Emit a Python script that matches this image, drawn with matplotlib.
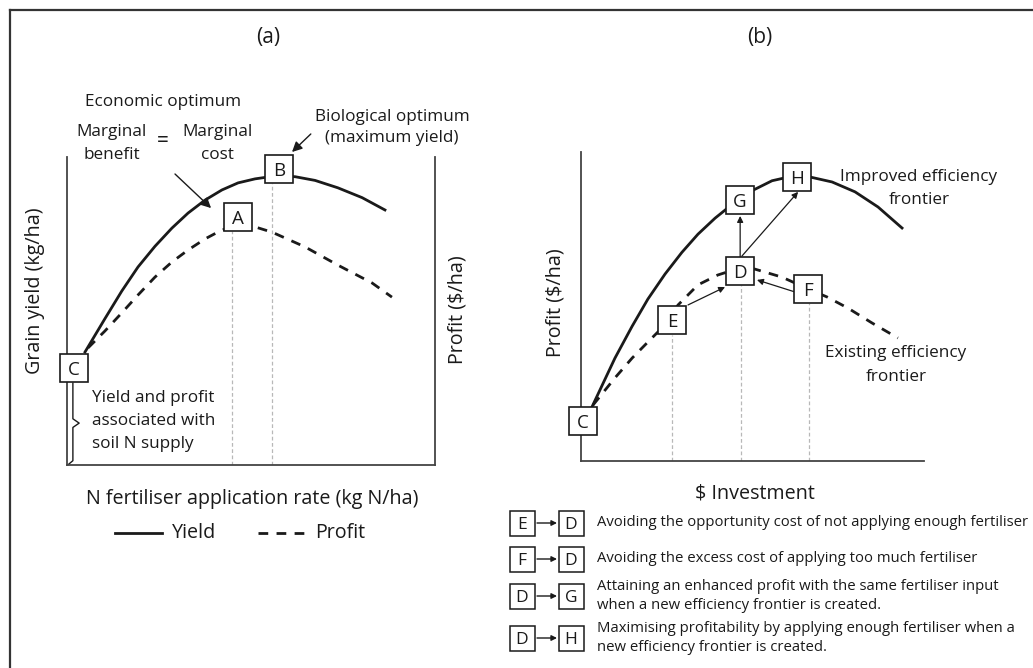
import matplotlib
matplotlib.use('agg')
import matplotlib.pyplot as plt
from matplotlib.lines import Line2D

plt.rcParams.update({
    "font.family": ["Open Sans", "DejaVu Sans"],
    "font.size": 12})

INK = '#1a1a1a'
GRID = '#b8b8b8'

# ---- panel (a): N rate vs yield / profit (relative units 0-100)
a_yield_x = [4.9, 10.3, 14.9, 19.3, 23.9, 28.5, 32.9, 37.5, 42.1, 46.5, 51.1, 54.6, 58.4, 62.0, 67.4, 73.6, 80.2, 86.4]
a_yield_y = [36.7, 47.5, 56.5, 64.3, 71.0, 76.9, 81.8, 86.0, 89.3, 91.6, 92.9, 93.5, 93.8, 93.6, 92.4, 90.0, 86.8, 82.8]
a_profit_x = [5.7, 10.3, 14.9, 19.3, 23.9, 28.5, 32.9, 37.5, 41.6, 45.7, 51.1, 55.7, 64.7, 73.6, 82.9, 88.3]
a_profit_y = [38.0, 43.5, 49.4, 55.2, 61.0, 65.9, 69.8, 73.4, 76.0, 77.9, 77.3, 75.6, 70.8, 64.9, 59.1, 54.5]
a_labels = ['C', 'A', 'B']
a_label_x = [1.8, 46.5, 57.6]
a_label_y = [31.5, 80.5, 96.1]
a_drop_x = [44.8, 55.7]      # economic / biological optimum rate
a_drop_top = [76.0, 91.6]

# ---- panel (b): investment vs profit (relative units 0-100)
b_improved_x = [3.2, 9.9, 14.9, 19.5, 24.5, 29.4, 34.1, 39.1, 42.9, 50.1, 55.7, 60.9, 66.8, 73.2, 79.9, 86.6, 93.6]
b_improved_y = [17.5, 33.3, 43.6, 52.4, 60.5, 67.5, 73.4, 78.6, 82.0, 87.6, 90.7, 92.0, 91.9, 90.3, 87.1, 82.2, 75.4]
b_existing_x = [3.5, 9.9, 14.9, 19.5, 23.0, 28.3, 34.1, 39.9, 46.4, 50.7, 58.6, 66.2, 71.7, 77.8, 84.8, 92.4]
b_existing_y = [18.1, 26.9, 33.3, 38.5, 42.4, 50.5, 57.0, 60.2, 62.5, 62.1, 59.5, 55.7, 53.1, 49.5, 44.7, 39.8]
b_labels = ['C', 'E', 'D', 'F', 'G', 'H']
b_label_x = [0.6, 26.5, 46.4, 66.2, 46.4, 63.0]
b_label_y = [12.9, 45.6, 61.5, 55.7, 84.5, 91.9]
b_drop_x = [26.5, 46.6, 66.5]
b_drop_top = [40.8, 57.0, 51.1]
b_arrow_from = [(31.2, 50.5), (62.4, 54.7), (46.4, 66.0), (46.9, 66.3)]
b_arrow_to = [(42.0, 56.3), (51.3, 58.6), (46.4, 79.3), (63.3, 87.1)]

legend_pairs = [('E', 'D'), ('F', 'D'), ('D', 'G'), ('D', 'H')]
legend_text = [
    ['Avoiding the opportunity cost of not applying enough fertiliser'],
    ['Avoiding the excess cost of applying too much fertiliser'],
    ['Attaining an enhanced profit with the same fertiliser input',
     'when a new efficiency frontier is created.'],
    ['Maximising profitability by applying enough fertiliser when a',
     'new efficiency frontier is created.'],
]

W, H = 1033, 668
LBL = 14.2    # axis labels
ANN = 12.3    # annotations
LEG = 10.7    # legend text in (b)


def rect(l, t, r, b):
    return [l / W, 1 - b / H, (r - l) / W, (b - t) / H]


fig = plt.figure(figsize=(W / 100, H / 100), dpi=100)

# overlay in pixel units for texts and the frame
ov = fig.add_axes([0, 0, 1, 1])
ov.set_xlim(0, W)
ov.set_ylim(H, 0)
ov.axis('off')
ov.plot([10, W], [10, 10], color='#333333', lw=1.6)
ov.plot([10, 10], [10, H], color='#333333', lw=1.6)


def boxes(ax, xs, ys, labels, ms=19.5, fs=13.5):
    ax.plot(xs, ys, 's', ms=ms, mfc='white', mec=INK, mew=1.2, zorder=5, clip_on=False)
    for x, y, t in zip(xs, ys, labels):
        ax.text(x, y, t, ha='center', va='center_baseline', fontsize=fs, color=INK, zorder=6)


def drops(ax, xs, tops):
    for x, t in zip(xs, tops):
        ax.plot([x, x], [0, t], color=GRID, lw=0.9, dashes=(3, 2), zorder=1)


# ---------- panel (a)
axa = fig.add_axes(rect(67, 157, 435, 465))
axa.set_facecolor('none')
axa.set_xlim(0, 100)
axa.set_ylim(0, 100)
axa.set_xticks([])
axa.set_yticks([])
axa.spines['top'].set_visible(False)
for s in ['left', 'bottom', 'right']:
    axa.spines[s].set_color('#444444')
    axa.spines[s].set_linewidth(1.3)
drops(axa, a_drop_x, a_drop_top)
axa.plot(a_yield_x, a_yield_y, color=INK, lw=2, zorder=3)
axa.plot(a_profit_x, a_profit_y, color=INK, lw=2, dashes=(3.5, 3), zorder=3)
boxes(axa, a_label_x, a_label_y, a_labels)
# brace for soil N supply
axa.plot([1.6, 1.6, 3.3, 1.6, 1.6, 0.2], [26.6, 15.0, 13.6, 12.2, 1.4, 0.0],
         color=INK, lw=1, clip_on=False)
axa.annotate('', xy=(39.7, 82.8), xytext=(28.8, 95.1),
             arrowprops=dict(arrowstyle='-|>', color=INK, lw=1, mutation_scale=15),
             annotation_clip=False)
axa.annotate('', xy=(60.6, 101.0), xytext=(66.8, 108.1),
             arrowprops=dict(arrowstyle='-|>', color=INK, lw=1, mutation_scale=15),
             annotation_clip=False)

# ---------- panel (b)
axb = fig.add_axes(rect(581, 152, 924, 461))
axb.set_facecolor('none')
axb.set_xlim(0, 100)
axb.set_ylim(0, 100)
axb.set_xticks([])
axb.set_yticks([])
for s in ['top', 'right']:
    axb.spines[s].set_visible(False)
for s in ['left', 'bottom']:
    axb.spines[s].set_color('#444444')
    axb.spines[s].set_linewidth(1.3)
drops(axb, b_drop_x, b_drop_top)
axb.plot(b_improved_x, b_improved_y, color=INK, lw=2, zorder=3)
axb.plot(b_existing_x, b_existing_y, color=INK, lw=2, dashes=(3.5, 3), zorder=3)
for p0, p1 in zip(b_arrow_from, b_arrow_to):
    axb.annotate('', xy=p1, xytext=p0,
                 arrowprops=dict(arrowstyle='-|>', color=INK, lw=0.9, mutation_scale=9,
                                 shrinkA=0, shrinkB=0), zorder=4)
boxes(axb, b_label_x, b_label_y, b_labels)

# ---------- texts (pixel positions)
kw = dict(color=INK, ha='center', va='center')
ov.text(268, 38, '(a)', fontsize=15, **kw)
ov.text(760, 38, '(b)', fontsize=15, **kw)
ov.text(163, 102, 'Economic optimum', fontsize=ANN, **kw)
ov.text(112, 132, 'Marginal', fontsize=ANN, **kw)
ov.text(112, 155, 'benefit', fontsize=ANN, **kw)
ov.text(163, 142, '=', fontsize=15, **kw)
ov.text(217, 132, 'Marginal', fontsize=ANN, **kw)
ov.text(217, 155, 'cost', fontsize=ANN, **kw)
ov.text(392, 117, 'Biological optimum', fontsize=ANN, **kw)
ov.text(392, 138, '(maximum yield)', fontsize=ANN, **kw)
ov.text(35, 291, 'Grain yield (kg/ha)', fontsize=LBL, rotation=90, **kw)
ov.text(458, 310, 'Profit ($/ha)', fontsize=LBL, rotation=90, **kw)
for txt, y in zip(['Yield and profit', 'associated with', 'soil N supply'], [398, 421, 444]):
    ov.text(92, y, txt, fontsize=ANN, color=INK, ha='left', va='center')
ov.text(252, 499, 'N fertiliser application rate (kg N/ha)', fontsize=LBL, **kw)

# panel (a) legend
ov.add_line(Line2D([115, 162], [533, 533], color=INK, lw=2))
ov.text(172, 533, 'Yield', fontsize=LBL, color=INK, ha='left', va='center')
ov.add_line(Line2D([258, 305], [533, 533], color=INK, lw=2, dashes=(3.5, 3)))
ov.text(315, 533, 'Profit', fontsize=LBL, color=INK, ha='left', va='center')

ov.text(556, 303, 'Profit ($/ha)', fontsize=LBL, rotation=90, **kw)
ov.text(919, 177, 'Improved efficiency', fontsize=ANN, **kw)
ov.text(919, 200, 'frontier', fontsize=ANN, **kw)
ov.text(896, 353, 'Existing efficiency', fontsize=ANN, **kw)
ov.text(896, 377, 'frontier', fontsize=ANN, **kw)
ov.text(755, 493, '$ Investment', fontsize=LBL, **kw)

# panel (b) legend rows
row_y = [523, 559, 596, 638]
for (l0, l1), lines, y in zip(legend_pairs, legend_text, row_y):
    ov.plot([522, 571], [y, y], 's', ms=18, mfc='white', mec=INK, mew=1.1)
    ov.text(522, y, l0, fontsize=12.5, color=INK, ha='center', va='center_baseline')
    ov.text(571, y, l1, fontsize=12.5, color=INK, ha='center', va='center_baseline')
    ov.annotate('', xy=(557, y), xytext=(537, y),
                arrowprops=dict(arrowstyle='-|>', color=INK, lw=1, mutation_scale=8,
                                shrinkA=0, shrinkB=0))
    if len(lines) == 1:
        ov.text(597, y, lines[0], fontsize=LEG, color=INK, ha='left', va='center')
    else:
        ov.text(597, y - 9.5, lines[0], fontsize=LEG, color=INK, ha='left', va='center')
        ov.text(597, y + 9.5, lines[1], fontsize=LEG, color=INK, ha='left', va='center')

fig.savefig('out.png', dpi=100)
